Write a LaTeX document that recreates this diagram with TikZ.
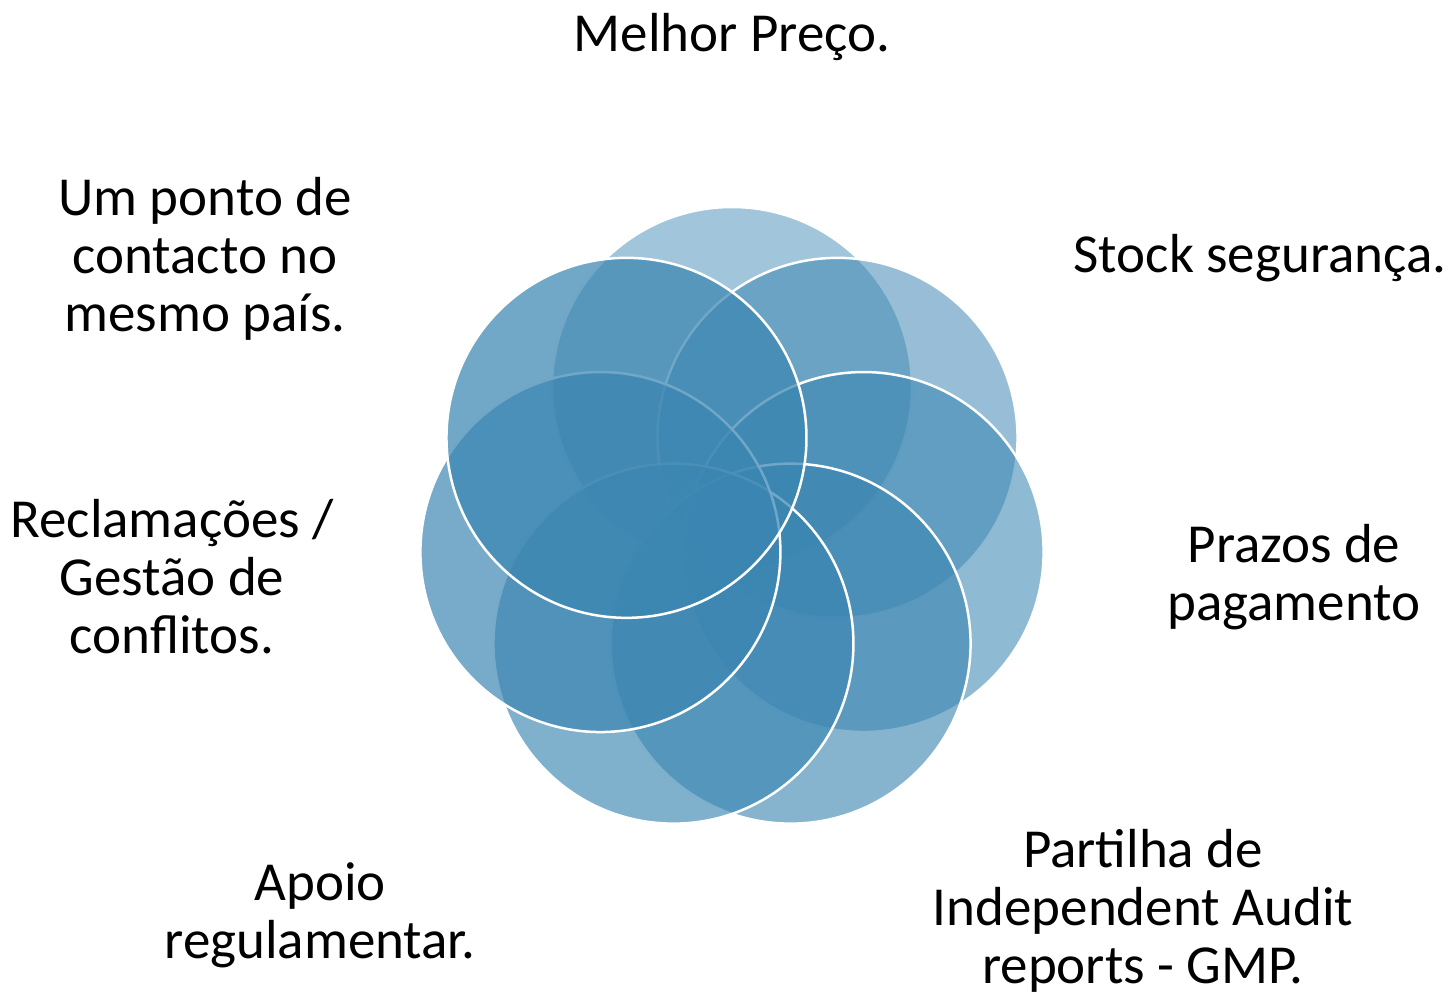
\documentclass[tikz,border=0pt]{standalone}
\usepackage{fontspec}
\setmainfont{Carlito}
\definecolor{petalblue}{RGB}{58,133,177}
\begin{document}
\begin{tikzpicture}[x=1pt,y=-1pt,
  petal/.style={circle, minimum size=360pt, inner sep=0pt, fill=petalblue, draw=white, line width=2.5pt},
  lbl/.style={font=\fontsize{55}{58}\selectfont, align=center, text=black, inner sep=0pt}]
\useasboundingbox (0,0) rectangle (1453,997);
\foreach \i/\op in {0/0.48,1/0.53,2/0.57,3/0.61,4/0.65,5/0.69,6/0.72} {
  \node[petal, fill opacity=\op] (p\i) at ({732+135*sin(\i*360/7)},{522-135*cos(\i*360/7)}) {};
}
\node[lbl] (t0) at (732,37) {Melhor Preço.};
\node[lbl] (t1) at (1260,258) {Stock segurança.};
\node[lbl] (t2) at (1294,577) {Prazos de\\pagamento};
\node[lbl] (t3) at (1143,911) {Partilha de\\Independent Audit\\reports - GMP.};
\node[lbl] (t4) at (320,915) {Apoio\\regulamentar.};
\node[lbl] (t5) at (172,577) {Reclamações /\\Gestão de\\conflitos.};
\node[lbl] (t6) at (205,259) {Um ponto de\\contacto no\\mesmo país.};
\end{tikzpicture}
\end{document}
